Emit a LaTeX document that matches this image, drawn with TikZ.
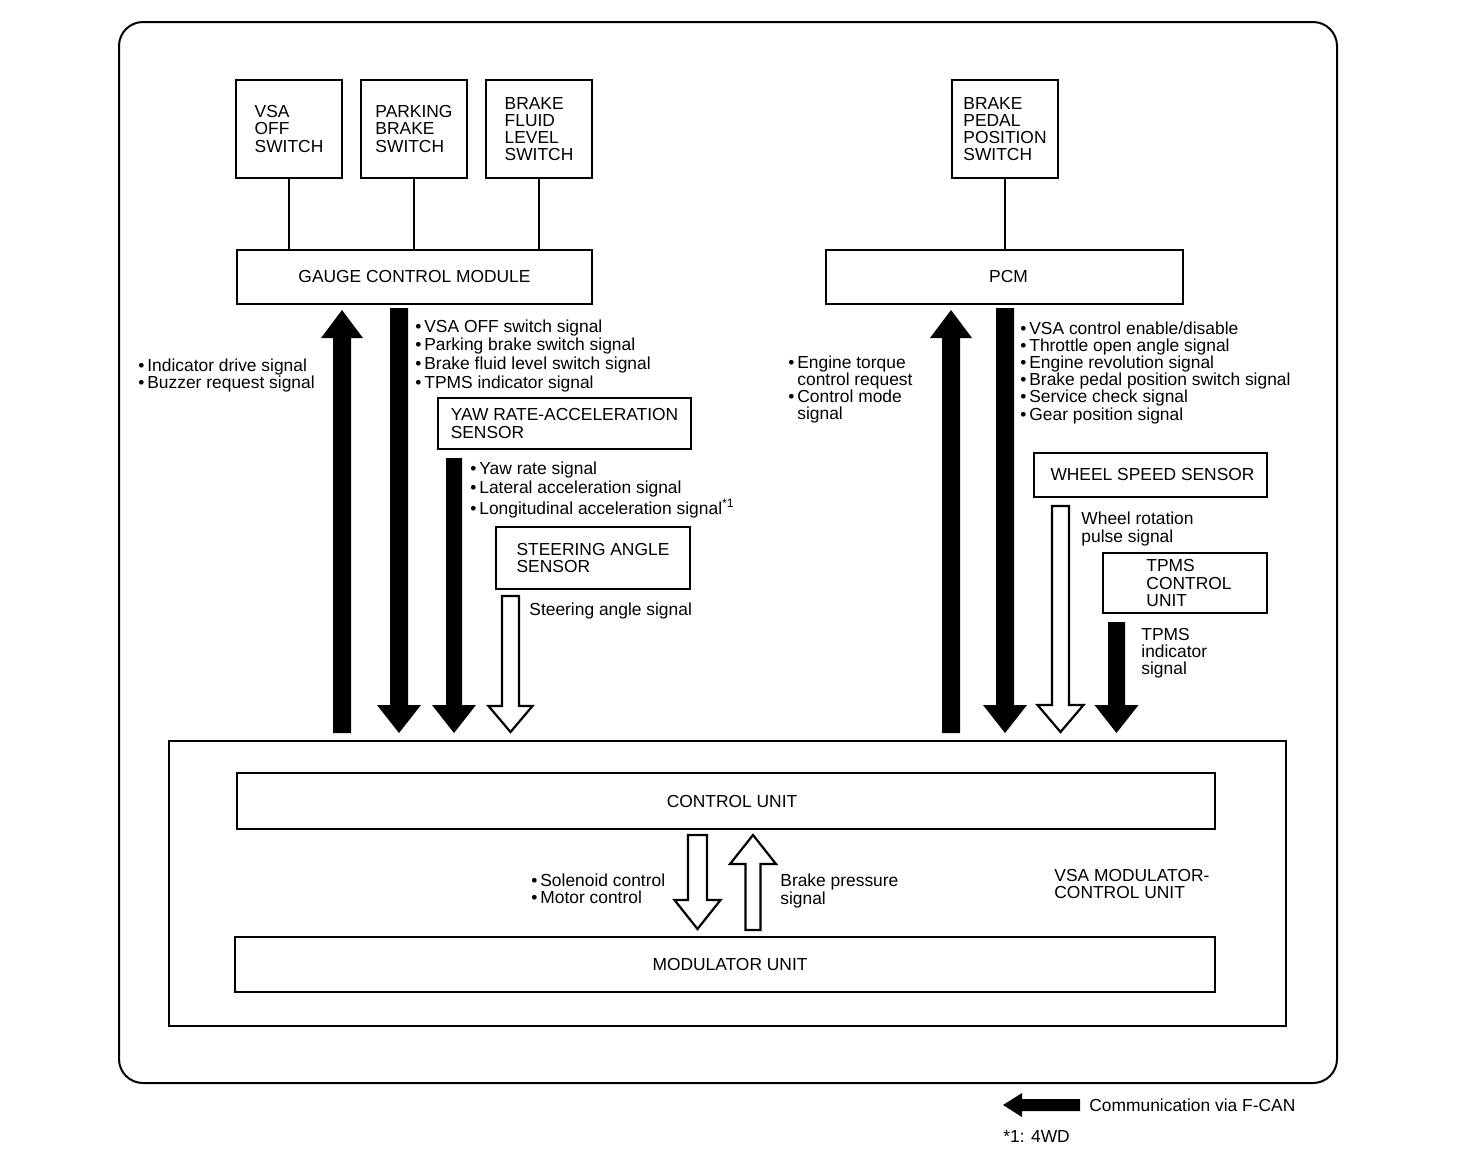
\documentclass[tikz,border=0pt]{standalone}
\usepackage{fontspec}
\setmainfont{Liberation Sans}
\newcommand\fatarrow[7]{%
  \path[#1] ({#2-#6},#3) -- ({#2-#6},#4) -- ({#2-#7},#4) -- (#2,#5) -- ({#2+#7},#4) -- ({#2+#6},#4) -- ({#2+#6},#3) -- cycle;}
\begin{document}
\begin{tikzpicture}[x=0.5pt,y=-0.5pt,
  every node/.style={font=\fontsize{8.7}{8.6}\selectfont, inner sep=0pt},
  box/.style={draw, line width=1.3pt, align=left},
  txt/.style={anchor=north west, align=left},
  wire/.style={line width=1.2pt},
  solidarrow/.style={fill=black},
  hollowarrow/.style={draw, line width=1.1pt, fill=white, line join=miter},
]
\useasboundingbox (0,0) rectangle (1472,1168);
% outer frame
\draw[line width=1pt, rounded corners=12pt] (119,22) rectangle (1337,1083);

% top switches
\node[box, minimum width=53pt, minimum height=49pt] (vsa) at (289,129) {VSA\\OFF\\SWITCH};
\node[box, minimum width=53pt, minimum height=49pt] (pbs) at (414,129) {PARKING\\BRAKE\\SWITCH};
\node[box, minimum width=53pt, minimum height=49pt] (bfl) at (539,129) {BRAKE\\FLUID\\LEVEL\\SWITCH};
\node[box, minimum width=53pt, minimum height=49pt] (bpp) at (1005,129) {BRAKE\\PEDAL\\POSITION\\SWITCH};

\node[box, minimum width=177.5pt, minimum height=27pt] (gcm) at (414.5,277) {GAUGE CONTROL MODULE};
\node[box, minimum width=178.5pt, minimum height=27pt] (pcm) at (1004.5,277) {\hspace*{4pt}PCM};

\draw[wire] (vsa.south) -- (vsa.south |- gcm.north);
\draw[wire] (pbs.south) -- (pbs.south |- gcm.north);
\draw[wire] (bfl.south) -- (bfl.south |- gcm.north);
\draw[wire] (bpp.south) -- (bpp.south |- pcm.north);

% sensors
\node[box, minimum width=126.5pt, minimum height=25.5pt] (yaw) at (564.5,423.5) {YAW RATE-ACCELERATION\\SENSOR};
\node[box, minimum width=97pt, minimum height=31pt] (sas) at (593,558) {STEERING ANGLE\\SENSOR};
\node[box, minimum width=116.5pt, minimum height=22pt] (wss) at (1150.5,475) {\hspace*{2pt}WHEEL SPEED SENSOR};
\node[box, minimum width=82pt, minimum height=30pt] (tpms) at (1185,583) {\hspace*{4pt}TPMS\\\hspace*{4pt}CONTROL\\\hspace*{4pt}UNIT};

% VSA modulator-control unit
\node[draw, line width=1.2pt, minimum width=558.5pt, minimum height=142.5pt] (vsam) at (727.5,883.5) {};
\node[box, minimum width=489pt, minimum height=28pt] (cu) at (726,801) {\hspace*{6pt}CONTROL UNIT};
\node[box, minimum width=490pt, minimum height=27.5pt] (mu) at (725,964.5) {\hspace*{5pt}MODULATOR UNIT};
\node[txt] (vsamlbl) at (1054,869) {VSA MODULATOR-\\CONTROL UNIT};

% arrows left group
\fatarrow{solidarrow}{342}{733}{338}{310}{9}{21}
\fatarrow{solidarrow}{399}{308}{705}{733}{9}{22}
\fatarrow{solidarrow}{454}{458}{705}{733}{8}{22}
\fatarrow{hollowarrow}{510.5}{596}{706}{732}{8.5}{22}
% arrows right group
\fatarrow{solidarrow}{951}{733}{338}{310}{9}{21}
\fatarrow{solidarrow}{1005}{308}{705}{733}{9}{22}
\fatarrow{hollowarrow}{1060.5}{506}{705}{732}{8.5}{23}
\fatarrow{solidarrow}{1116.5}{622}{705}{733}{8.5}{22}
% internal arrows
\fatarrow{hollowarrow}{697.5}{835}{900}{929}{9.5}{23}
\fatarrow{hollowarrow}{753}{930}{864}{835}{7.5}{23}

% labels
\node[txt] (l1) at (138,358) {\textbullet\,Indicator drive signal\\\textbullet\,Buzzer request signal};
\node[txt, font=\fontsize{8.7}{9.4}\selectfont] (l2) at (415,319) {\textbullet\,VSA OFF switch signal\\\textbullet\,Parking brake switch signal\\\textbullet\,Brake fluid level switch signal\\\textbullet\,TPMS indicator signal};
\node[txt, font=\fontsize{8.7}{9.6}\selectfont] (l3) at (470,461) {\textbullet\,Yaw rate signal\\\textbullet\,Lateral acceleration signal\\\textbullet\,Longitudinal acceleration signal\textsuperscript{*1}};
\node[txt] (l4) at (529,602) {Steering angle signal};
\node[txt] (r1) at (788,355) {\textbullet\,Engine torque\\\phantom{\textbullet\,}control request\\\textbullet\,Control mode\\\phantom{\textbullet\,}signal};
\node[txt] (r2) at (1020,321) {\textbullet\,VSA control enable/disable\\\textbullet\,Throttle open angle signal\\\textbullet\,Engine revolution signal\\\textbullet\,Brake pedal position switch signal\\\textbullet\,Service check signal\\\textbullet\,Gear position signal};
\node[txt, font=\fontsize{8.7}{9}\selectfont] (r3) at (1081,511) {Wheel rotation\\pulse signal};
\node[txt] (r4) at (1141,628) {TPMS\\indicator\\signal};
\node[txt] (b1) at (531,873) {\textbullet\,Solenoid control\\\textbullet\,Motor control};
\node[txt, font=\fontsize{8.7}{9}\selectfont] (b2) at (780,873) {Brake pressure\\signal};

% legend
\fill (1003,1105) -- (1022,1093) -- (1022,1099) -- (1080,1099) -- (1080,1111) -- (1022,1111) -- (1022,1117) -- cycle;
\node[anchor=west] (leg) at (1089,1105) {Communication via F-CAN};
\node[anchor=west] (note) at (1003,1136) {*1: 4WD};
\end{tikzpicture}
\end{document}
